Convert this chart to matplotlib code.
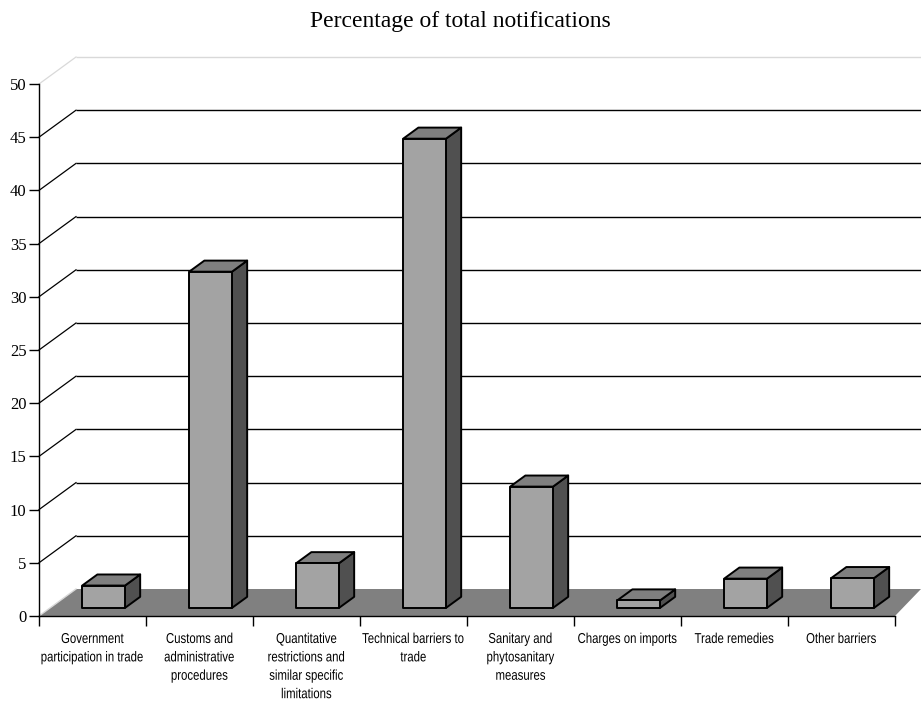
import matplotlib
matplotlib.use("Agg")
import matplotlib.pyplot as plt
from matplotlib.patches import Polygon
from matplotlib.patheffects import AbstractPathEffect
from matplotlib.transforms import Affine2D
from matplotlib import font_manager

# Data
categories = [
    "Government\nparticipation in trade",
    "Customs and\nadministrative\nprocedures",
    "Quantitative\nrestrictions and\nsimilar specific\nlimitations",
    "Technical barriers to\ntrade",
    "Sanitary and\nphytosanitary\nmeasures",
    "Charges on imports",
    "Trade remedies",
    "Other barriers",
]
values = [2.1, 31.6, 4.2, 44.1, 11.4, 0.7, 2.75, 2.8]
y_ticks = [0, 5, 10, 15, 20, 25, 30, 35, 40, 45, 50]
title = "Percentage of total notifications"


class HorizontalSqueeze(AbstractPathEffect):
    """Narrows each text line horizontally about its own centre."""

    def __init__(self, sx):
        super().__init__()
        self.sx = sx

    def draw_path(self, renderer, gc, tpath, affine, rgbFace=None):
        ext = tpath.get_extents(affine)
        cx = 0.5 * (ext.x0 + ext.x1)
        t = affine + Affine2D().translate(-cx, 0).scale(self.sx, 1.0).translate(cx, 0)
        renderer.draw_path(gc, tpath, t, rgbFace)


# Fonts
available = {f.name for f in font_manager.fontManager.ttflist}
if "Liberation Sans Narrow" in available:
    label_family, label_squeeze = "Liberation Sans Narrow", 0.97
else:
    label_family, label_squeeze = "Liberation Sans", 0.796
serif = "Liberation Serif"

# Figure geometry (pixels at 100 dpi)
W, H = 921, 701
fig = plt.figure(figsize=(W / 100, H / 100), dpi=100)
x0_px, x1_px = 39, 895
y0_px, y1_px = 616, 84           # value 0 and value 50 (from top)
ax = fig.add_axes([x0_px / W, (H - y0_px) / H, (x1_px - x0_px) / W, (y0_px - y1_px) / H])
n = len(categories)
ymax = y_ticks[-1]
ax.set_xlim(0, n)
ax.set_ylim(0, ymax)

px_x = (x1_px - x0_px) / n           # pixels per category
px_y = (y0_px - y1_px) / ymax        # pixels per value unit
# oblique depth vector of the floor / wall
dep_x = 37 / px_x
dep_y = 27 / px_y
x_right = (W - x0_px) / px_x         # right edge of figure in data units

# Floor
floor = Polygon([(0, 0), (n, 0), (x_right, dep_y), (dep_x, dep_y)], closed=True,
                facecolor="#808080", edgecolor="none", zorder=1, clip_on=False)
ax.add_patch(floor)
ax.plot([0, dep_x], [0, dep_y], color="#d8d8d8", lw=1.0, zorder=1.5, clip_on=False)

# Back wall gridlines with diagonal connectors
for v in y_ticks[1:]:
    col = "#d9d9d9" if v == ymax else "black"
    ax.plot([dep_x, x_right], [v + dep_y, v + dep_y], color=col, lw=1.0,
            zorder=0.5, clip_on=False, solid_capstyle="butt")
    ax.plot([0, dep_x], [v, v + dep_y], color=col, lw=0.9, zorder=0.5, clip_on=False)

# 3D columns
bar_w = 0.40
f0, f1 = 0.30, 0.71
front_c, top_c, side_c = "#a3a3a3", "#7f7f7f", "#505050"
for i, v in enumerate(values):
    xl = i + (1 - bar_w) / 2 + f0 * dep_x
    xr = xl + bar_w
    yb = f0 * dep_y
    ddx = (f1 - f0) * dep_x
    ddy = (f1 - f0) * dep_y
    kw = dict(closed=True, edgecolor="black", lw=1.4, joinstyle="round",
              zorder=3, clip_on=False)
    side = Polygon([(xr, yb), (xr + ddx, yb + ddy), (xr + ddx, yb + v + ddy), (xr, yb + v)],
                   facecolor=side_c, **kw)
    top = Polygon([(xl, yb + v), (xr, yb + v), (xr + ddx, yb + v + ddy), (xl + ddx, yb + v + ddy)],
                  facecolor=top_c, **kw)
    front = Polygon([(xl, yb), (xr, yb), (xr, yb + v), (xl, yb + v)],
                    facecolor=front_c, **kw)
    for p in (side, top, front):
        ax.add_patch(p)

# Axes styling
for s in ("top", "right"):
    ax.spines[s].set_visible(False)
ax.spines["left"].set_linewidth(1.0)
ax.spines["bottom"].set_linewidth(1.0)
ax.spines["left"].set_zorder(4)
ax.spines["bottom"].set_zorder(4)
ax.patch.set_visible(False)

ax.set_yticks(y_ticks)
ax.set_yticklabels([str(t) for t in y_ticks], fontfamily=serif, fontsize=12)
ax.tick_params(axis="y", direction="out", length=7, width=1.0, pad=2)

ax.set_xticks(range(n + 1))
ax.set_xticklabels([])
ax.tick_params(axis="x", which="major", direction="out", length=7.5, width=1.0)
ax.set_xticks([i + 0.5 for i in range(n)], minor=True)
ax.set_xticklabels(categories, minor=True, fontfamily=label_family, fontsize=10.3,
                   linespacing=1.4, va="top", ha="center")
ax.tick_params(axis="x", which="minor", length=0, pad=11.5)
if label_squeeze != 1.0:
    for lbl in ax.get_xticklabels(minor=True):
        lbl.set_path_effects([HorizontalSqueeze(label_squeeze)])

fig.text(0.5, 1 - 22 / H, title, ha="center", va="center", fontfamily=serif, fontsize=17)

fig.savefig("out.png", dpi=100, facecolor="white")
